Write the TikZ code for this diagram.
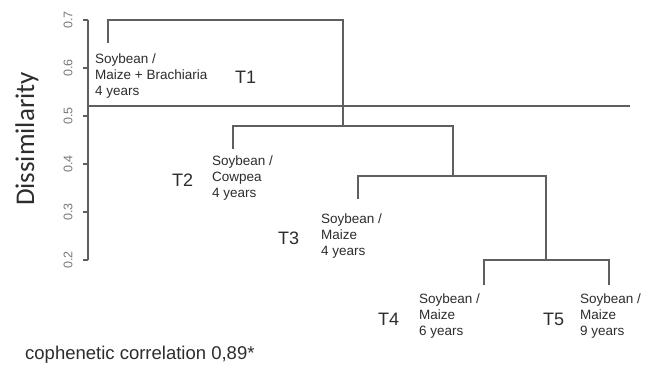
\documentclass[tikz,border=0pt]{standalone}
\usepackage{fontspec}
\setmainfont{Liberation Sans}
\newfontfamily\calfont{Carlito}
\definecolor{linegray}{RGB}{95,95,95}
\definecolor{textgray}{RGB}{45,45,45}
\definecolor{tickgray}{RGB}{120,120,120}
\begin{document}
\begin{tikzpicture}[x=1pt,y=-1pt,
  tree/.style={draw=linegray,line width=1.6pt},
  leaflabel/.style={anchor=west,inner sep=0pt,align=left,text=textgray,font=\fontsize{13.5}{16}\selectfont},
  tlabel/.style={anchor=west,inner sep=0pt,text=textgray,font=\fontsize{18}{20}\selectfont},
  ticklabel/.style={rotate=90,inner sep=0pt,text=tickgray,font=\fontsize{12.5}{14}\selectfont}]
\useasboundingbox[fill=white] (0,0) rectangle (646,368);
% axis
\coordinate (ax0) at (88,20);
\coordinate (ax1) at (88,260);
\draw[tree] (ax0) -- (ax1);
\foreach \v/\y in {0.7/20,0.6/68,0.5/116,0.4/164,0.3/212,0.2/260}{
  \coordinate (tk\y) at (83,\y);
  \coordinate (ta\y) at (88,\y);
  \draw[tree] (tk\y) -- (ta\y);
  \node[ticklabel] (tl\y) at (68,\y) {\v};
}
\node[rotate=90,text=textgray,font=\calfont\fontsize{27}{30}\selectfont,inner sep=0pt] (ylab) at (27,139) {Dissimilarity};
% dendrogram
\coordinate (L1) at (108,43);
\coordinate (L2) at (233,149);
\coordinate (L3) at (358,199);
\coordinate (L4) at (484,285);
\coordinate (L5) at (609,285);
\coordinate (M45) at (546,260);
\coordinate (M345) at (453,176);
\coordinate (M2345) at (343,126);
\coordinate (Mall) at (225,20);
\draw[tree] (L1) |- (Mall) -| (M2345);
\draw[tree] (L2) |- (M2345) -| (M345);
\draw[tree] (L3) |- (M345) -| (M45);
\draw[tree] (L4) |- (M45) -| (L5);
% cut line
\coordinate (c0) at (88,106);
\coordinate (c1) at (630,106);
\draw[tree,line width=1.5pt] (c0) -- (c1);
% labels
\node[leaflabel] (t1) at (95,76) {Soybean /\\Maize + Brachiaria\\4 years};
\node[tlabel] (T1) at (235,77) {T1};
\node[leaflabel] (t2) at (212,178.5) {Soybean /\\Cowpea\\4 years};
\node[tlabel] (T2) at (172,180) {T2};
\node[leaflabel] (t3) at (321,236) {Soybean /\\Maize\\4 years};
\node[tlabel] (T3) at (278,238) {T3};
\node[leaflabel] (t4) at (419,316) {Soybean /\\Maize\\6 years};
\node[tlabel] (T4) at (378,319) {T4};
\node[leaflabel] (t5) at (580,316) {Soybean /\\Maize\\9 years};
\node[tlabel] (T5) at (543,319) {T5};
\node[anchor=west,inner sep=0pt,text=textgray,font=\fontsize{18.5}{20}\selectfont] (coph) at (25,355) {cophenetic correlation 0,89*};
\end{tikzpicture}
\end{document}
